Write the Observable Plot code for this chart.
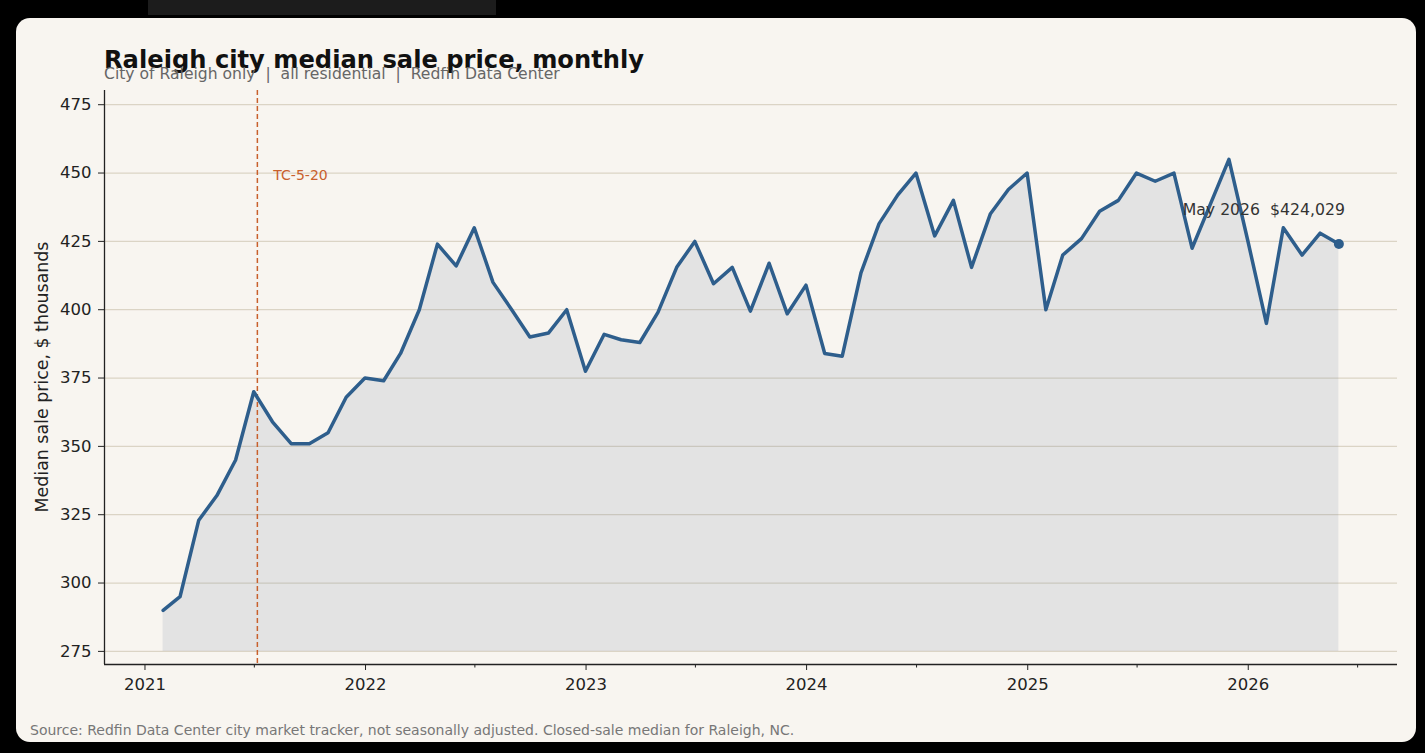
<!DOCTYPE html>
<html>
<head>
<meta charset="utf-8">
<script src="https://cdn.jsdelivr.net/npm/d3@7"></script>
<script src="https://cdn.jsdelivr.net/npm/@observablehq/plot@0.6"></script>
<style>
  html, body { margin:0; padding:0; background:#000; width:1425px; height:753px; overflow:hidden; font-family:"DejaVu Sans", sans-serif; }
  #topbar { position:absolute; left:148px; top:0; width:348px; height:15px; background:#1c1c1c; }
  #card { position:absolute; left:16px; top:18px; width:1400px; height:724px; background:#f8f5f0; border-radius:14px; }
  #chart { position:absolute; left:0; top:0; }
  .t { position:absolute; line-height:1; white-space:nowrap; }
  #title { left:104px; top:47.8px; font-size:24.2px; font-weight:bold; color:#111; }
  #subtitle { left:104px; top:67px; font-size:15.6px; color:#666; }
  #ylabel { left:43px; top:377px; font-size:17.4px; color:#222; transform:translate(-50%,-50%) rotate(-90deg); }
  #footer { left:30px; top:723.2px; font-size:14px; color:#777; }
</style>
</head>
<body>
<div id="topbar"></div>
<div id="card"></div>
<div id="chart"></div>
<div class="t" id="title">Raleigh city median sale price, monthly</div>
<div class="t" id="subtitle">City of Raleigh only &nbsp;|&nbsp; all residential &nbsp;|&nbsp; Redfin Data Center</div>
<div class="t" id="ylabel">Median sale price, $ thousands</div>
<div class="t" id="footer">Source: Redfin Data Center city market tracker, not seasonally adjusted. Closed-sale median for Raleigh, NC.</div>
<script>
// ---- data (median sale price, $ thousands, month-end) ----
const startMonth = "2021-01";
const values2021 = [290, 295, 323, 332, 345, 370, 359, 351, 351, 355, 368, 375];
const values2022 = [374, 384, 400, 424, 416, 430, 410, 400, 390, 391.5, 400, 377.5];
const values2023 = [391, 389, 388, 399, 415.5, 425, 409.5, 415.5, 399.5, 417, 398.5, 409];
const values2024 = [384, 383, 413.5, 431.5, 442, 450, 427, 440, 415.5, 435, 444, 450];
const values2025 = [400, 420, 426, 436, 440, 450, 447, 450, 422.5, 439, 455, 425.5];
const values2026 = [395, 430, 420, 428, 424.029];
const yTicks = [275, 300, 325, 350, 375, 400, 425, 450, 475];
const yearTicks = [2021, 2022, 2023, 2024, 2025, 2026];
const eventDate = "2021-07-06";
const eventLabel = "TC-5-20";
const eventLabelValue = 449;
const lastLabel = "May 2026  $424,029";
const BASELINE = 275;

const values = [...values2021, ...values2022, ...values2023, ...values2024, ...values2025, ...values2026];
const [sy, sm] = startMonth.split("-").map(Number);
const rows = values.map((v, i) => ({ date: new Date(Date.UTC(sy, sm - 1 + i + 1, 0)), value: v }));
const last = [rows[rows.length - 1]];
const majorTicks = yearTicks.map(y => new Date(Date.UTC(y, 0, 1)));
const minorTicks = yearTicks.map(y => new Date(Date.UTC(y, 6, 1)));
const evDate = new Date(eventDate + "T00:00:00Z");
const xDomain = [new Date(Date.UTC(2020, 9, 26)), new Date(Date.UTC(2026, 8, 5))];
const yDomain = [270.2, 480.2];

const lineColor = "#2e5e8c";
const eventColor = "#c8602c";

const chart = Plot.plot({
  width: 1425,
  height: 753,
  marginLeft: 104,
  marginRight: 28,
  marginTop: 90,
  marginBottom: 89,
  style: { background: "transparent", fontFamily: "DejaVu Sans, sans-serif", fontSize: "16.5px", color: "#222" },
  x: { type: "utc", domain: xDomain },
  y: { domain: yDomain },
  marks: [
    Plot.gridY(yTicks, { stroke: "#dbd4c5", strokeOpacity: 1, strokeWidth: 1.3 }),
    Plot.areaY(rows, { x: "date", y1: BASELINE, y2: "value", fill: "#6c7d99", fillOpacity: 0.15 }),
    Plot.ruleX([evDate], { stroke: eventColor, strokeWidth: 1.5, strokeDasharray: "5,3" }),
    Plot.text([evDate], { x: d => d, y: () => eventLabelValue, text: () => eventLabel, dx: 16, textAnchor: "start", fill: eventColor, fontSize: 14 }),
    Plot.line(rows, { x: "date", y: "value", stroke: lineColor, strokeWidth: 3.5, strokeLinejoin: "round", strokeLinecap: "round" }),
    Plot.dot(last, { x: "date", y: "value", r: 5, fill: lineColor }),
    Plot.text(last, { x: "date", y: "value", text: () => lastLabel, dx: 6, dy: -34, textAnchor: "end", fill: "#333", fontSize: 15.7 }),
    Plot.axisY(yTicks, { tickSize: 6, tickPadding: 7, fontSize: 16.5, label: null, stroke: "#222", fill: "#222" }),
    Plot.axisX(majorTicks, { tickSize: 6, tickPadding: 8, tickFormat: "%Y", fontSize: 16.5, label: null, stroke: "#222", fill: "#222" }),
    Plot.axisX(minorTicks, { tickSize: 3.5, tickFormat: () => "", label: null, stroke: "#222" }),
    Plot.ruleX([xDomain[0]], { stroke: "#222", strokeWidth: 1.3 }),
    Plot.ruleY([yDomain[0]], { stroke: "#222", strokeWidth: 1.3 })
  ]
});
document.getElementById("chart").appendChild(chart);
</script>
</body>
</html>
